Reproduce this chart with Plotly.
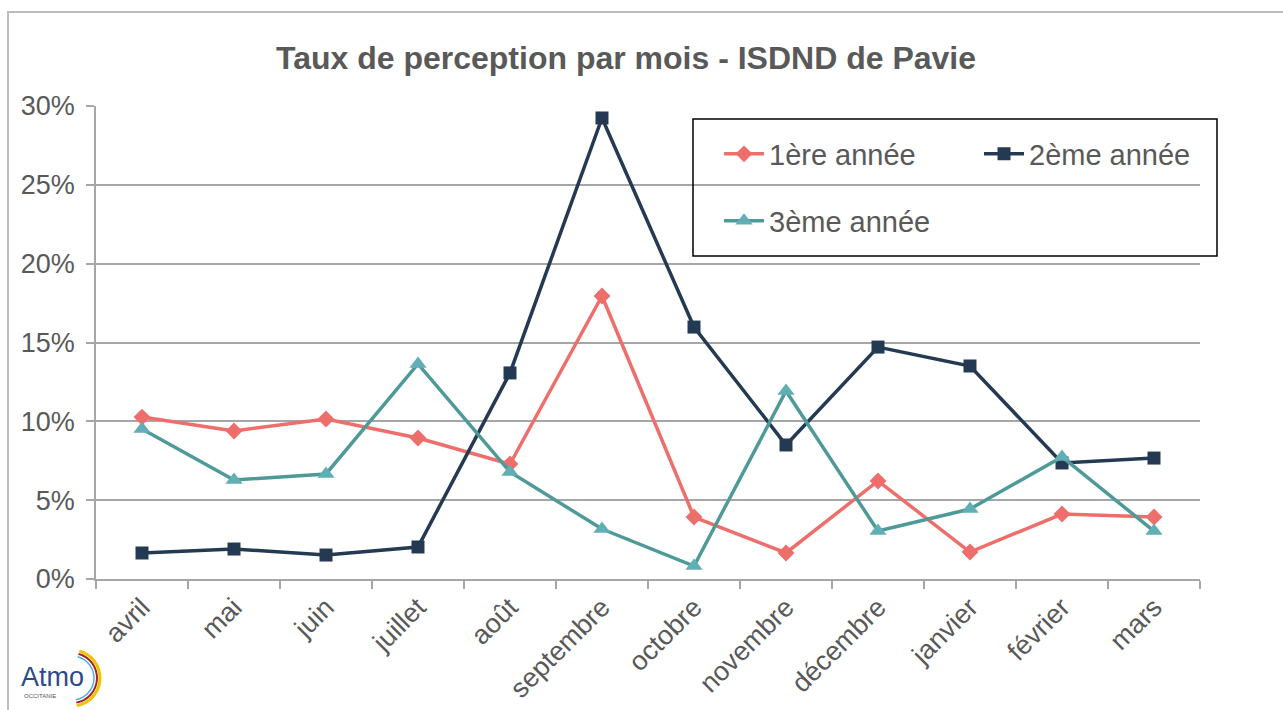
import math
import plotly.graph_objects as go

months = ["avril", "mai", "juin", "juillet", "août", "septembre", "octobre",
          "novembre", "décembre", "janvier", "février", "mars"]
annee1 = [0.1027, 0.0939, 0.1015, 0.0894, 0.0729, 0.1795, 0.0393, 0.0165, 0.0622, 0.0171, 0.0412, 0.0393]
annee2 = [0.0165, 0.0190, 0.0152, 0.0203, 0.1307, 0.2924, 0.1598, 0.0850, 0.1471, 0.1351, 0.0736, 0.0767]
annee3 = [0.0951, 0.0628, 0.0666, 0.1364, 0.0679, 0.0317, 0.0082, 0.1192, 0.0304, 0.0444, 0.0774, 0.0304]
series_names = ["1ère année", "2ème année", "3ème année"]
title_text = "Taux de perception par mois - ISDND de Pavie"

W, H = 1283, 710
L, R, T, B = 96, 83, 106, 131
PW, PH = W - L - R, H - T - B

def px(x):
    return (x - L) / PW

def py(y):
    return (H - B - y) / PH

TXT = "#595959"
GRID = "#A6A6A6"
FONT = "Liberation Sans, Arial, sans-serif"

fig = go.Figure()
fig.add_trace(go.Scatter(
    x=months, y=annee1, name=series_names[0], mode="lines+markers",
    line=dict(color="#EE6E6B", width=3.5),
    marker=dict(symbol="diamond", size=13, color="#EE6E6B"),
    legend="legend"))
fig.add_trace(go.Scatter(
    x=months, y=annee2, name=series_names[1], mode="lines+markers",
    line=dict(color="#243A52", width=3.5),
    marker=dict(symbol="square", size=13, color="#243A52"),
    legend="legend"))
fig.add_trace(go.Scatter(
    x=months, y=annee3, name=series_names[2], mode="lines+markers",
    line=dict(color="#4E9A98", width=3.5),
    marker=dict(symbol="triangle-up", size=15, color="#62AEB5"),
    legend="legend2"))

shapes = [
    # outer chart border
    dict(type="rect", xref="paper", yref="paper",
         x0=px(8), x1=px(1295), y0=py(720), y1=py(12),
         line=dict(color="#BDBDBD", width=2), layer="below"),
    # legend box
    dict(type="rect", xref="paper", yref="paper",
         x0=px(693), x1=px(1217), y0=py(256), y1=py(119),
         line=dict(color="#000000", width=1.5)),
]

def arc(cx, cy, r, a0, a1, n=16):
    pts = []
    for i in range(n + 1):
        a = math.radians(a0 + (a1 - a0) * i / n)
        pts.append((px(cx + r * math.cos(a)), py(cy - r * math.sin(a))))
    return "M " + " L ".join(f"{x:.5f},{y:.5f}" for x, y in pts)

for r, col, w in [(22, "#4FB3D9", 1.5), (25, "#A3232B", 2), (28, "#F2C200", 3)]:
    shapes.append(dict(type="path", xref="paper", yref="paper",
                       path=arc(72, 678, r, 75, -80), line=dict(color=col, width=w)))

annotations = [
    dict(text="Atmo", xref="paper", yref="paper", x=px(52), y=py(677),
         xanchor="center", yanchor="middle", showarrow=False,
         font=dict(family="Liberation Sans Narrow, Arial Narrow, sans-serif", size=27, color="#2C4B8E")),
    dict(text="OCCITANIE", xref="paper", yref="paper", x=px(22), y=py(696),
         xanchor="left", yanchor="middle", showarrow=False,
         font=dict(family=FONT, size=6, color="#555555")),
]

fig.update_layout(
    width=W, height=H,
    margin=dict(l=L, r=R, t=T, b=B, autoexpand=False),
    paper_bgcolor="white", plot_bgcolor="white",
    font=dict(family=FONT, color=TXT),
    title=dict(text=f"<b>{title_text}</b>", x=px(626), xref="paper", xanchor="center",
               y=1 - 58 / H, yref="container", yanchor="middle",
               font=dict(size=32, color=TXT, family=FONT)),
    legend=dict(orientation="h", x=px(719), y=py(154), xanchor="left", yanchor="middle",
                entrywidth=205, entrywidthmode="pixels", bgcolor="rgba(0,0,0,0)",
                font=dict(size=29, color=TXT, family=FONT), itemwidth=40),
    legend2=dict(orientation="h", x=px(719), y=py(221), xanchor="left", yanchor="middle",
                 bgcolor="rgba(0,0,0,0)",
                 font=dict(size=29, color=TXT, family=FONT), itemwidth=40),
    shapes=shapes,
    annotations=annotations,
    showlegend=True,
)
fig.update_xaxes(type="category", tickson="boundaries", ticks="outside", ticklen=8,
                 tickcolor=GRID, tickwidth=1.5, showline=True, linecolor=GRID, linewidth=1.5,
                 showgrid=False, tickangle=-45, tickfont=dict(size=27, color=TXT),
                 range=[-0.5, 11.5])
fig.update_yaxes(range=[0, 0.30], dtick=0.05, tickformat=".0%", ticks="outside", ticklen=8,
                 tickcolor=GRID, tickwidth=1.5, showline=True, linecolor=GRID, linewidth=1.5,
                 showgrid=True, gridcolor=GRID, gridwidth=1.5, zeroline=False,
                 ticklabelstandoff=6, tickfont=dict(size=27, color=TXT))

fig.write_html("out.html", config={"displayModeBar": False},
               post_script="document.body.style.margin='0';")
